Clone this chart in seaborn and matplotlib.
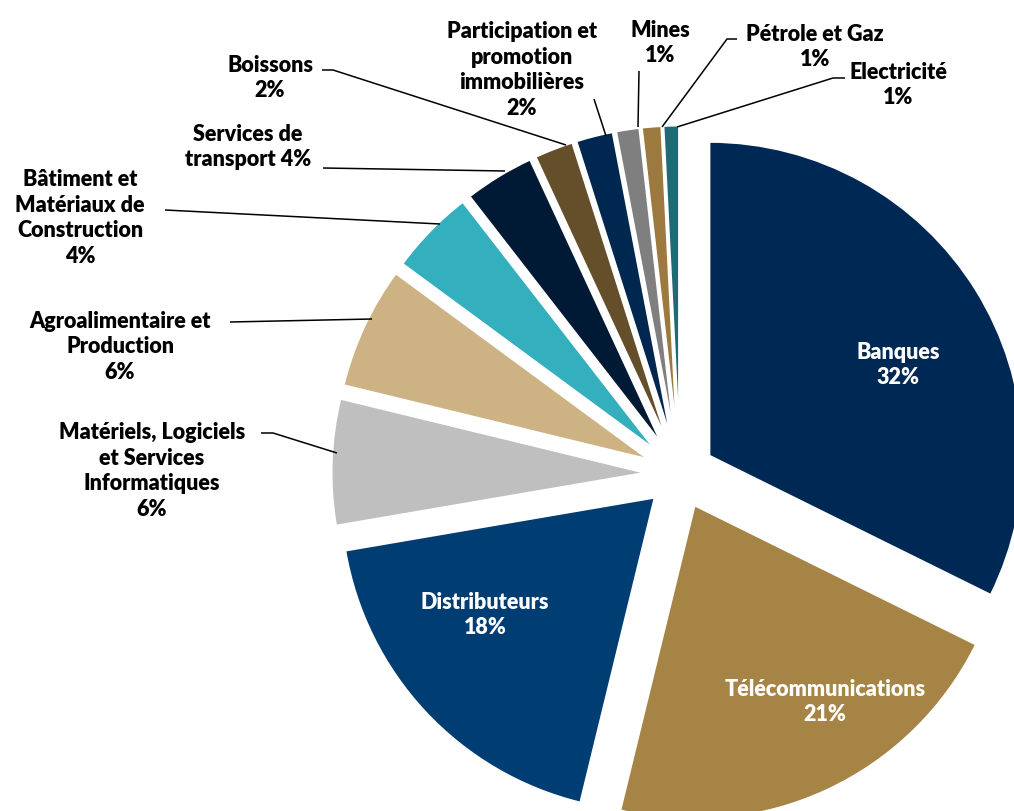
import matplotlib
matplotlib.use("Agg")
import matplotlib.pyplot as plt
import seaborn as sns

# ---- data ----
categories = [
    "Banques", "Télécommunications", "Distributeurs",
    "Matériels, Logiciels\net Services\nInformatiques",
    "Agroalimentaire et\nProduction",
    "Bâtiment et\nMatériaux de\nConstruction",
    "Services de\ntransport", "Boissons",
    "Participation et\npromotion\nimmobilières",
    "Mines", "Pétrole et Gaz", "Electricité",
]
shares = [32.3, 21.49, 18.49, 6.49, 6.3, 4.4, 3.6, 2.0, 1.9, 1.2, 1.0, 0.8]
colors = ["#002855", "#A58446", "#003D73", "#BFBFBF", "#CDB283", "#33AFBD",
          "#001A35", "#654E2A", "#00274F", "#7F7F7F", "#9C7A3F", "#1F6B75"]

# ---- layout (pixel space of the 1014x812 canvas) ----
CX, CY, R = 680, 475, 314
W, H = 1014, 812


def d(px, py):
    return (px - CX) / R, (CY - py) / R

# label centre (px), separator between name and percentage, text colour
label_pos = [
    ((898, 365), "\n", "white"),
    ((825, 702), "\n", "white"),
    ((485, 615), "\n", "white"),
    ((152, 471), "\n", "black"),
    ((120, 347), "\n", "black"),
    ((80, 218), "\n", "black"),
    ((248, 147), " ", "black"),
    ((270, 78), "\n", "black"),
    ((522, 70), "\n", "black"),
    ((660, 43), "\n", "black"),
    ((815, 47), "\n", "black"),
    ((898, 85), "\n", "black"),
]
leaders = [
    None, None, None,
    [(261, 434), (273, 434), (337, 454)],
    [(230, 323), (372, 320)],
    [(165, 211), (440, 225)],
    [(323, 169), (505, 172)],
    [(322, 71), (333, 71), (566, 146)],
    [(594, 100), (606, 137)],
    [(639, 72), (638, 128)],
    [(737, 40), (727, 40), (662, 128)],
    [(845, 79), (833, 79), (677, 128)],
]

sns.set_theme(style="white")
plt.rcParams["font.family"] = ["Lato", "DejaVu Sans"]

fig = plt.figure(figsize=(W / 100, H / 100), dpi=100)
ax = fig.add_axes([0, 0, 1, 1])
palette = sns.color_palette(colors)
ax.pie(shares, startangle=90, counterclock=False,
       explode=[0.11] * len(shares), colors=palette, radius=1,
       wedgeprops=dict(edgecolor="white", linewidth=1.5))

x0, y1 = d(0, 0)
x1, y0 = d(W, H)
ax.set_xlim(x0, x1)
ax.set_ylim(y0, y1)
ax.set_aspect("equal")
ax.axis("off")

for name, val, (pos, sep, col), lead in zip(categories, shares, label_pos, leaders):
    tx, ty = d(*pos)
    txt = f"{name}{sep}{val:.0f}%"
    ax.text(tx, ty, txt, ha="center", va="center", color=col,
            fontsize=15.5, fontweight="heavy", linespacing=1.28, multialignment="center")
    if lead:
        pts = [d(*p) for p in lead]
        ax.plot([p[0] for p in pts], [p[1] for p in pts], color="black", lw=1.1,
                solid_capstyle="butt")

fig.savefig("out.png", dpi=100, facecolor="white")
